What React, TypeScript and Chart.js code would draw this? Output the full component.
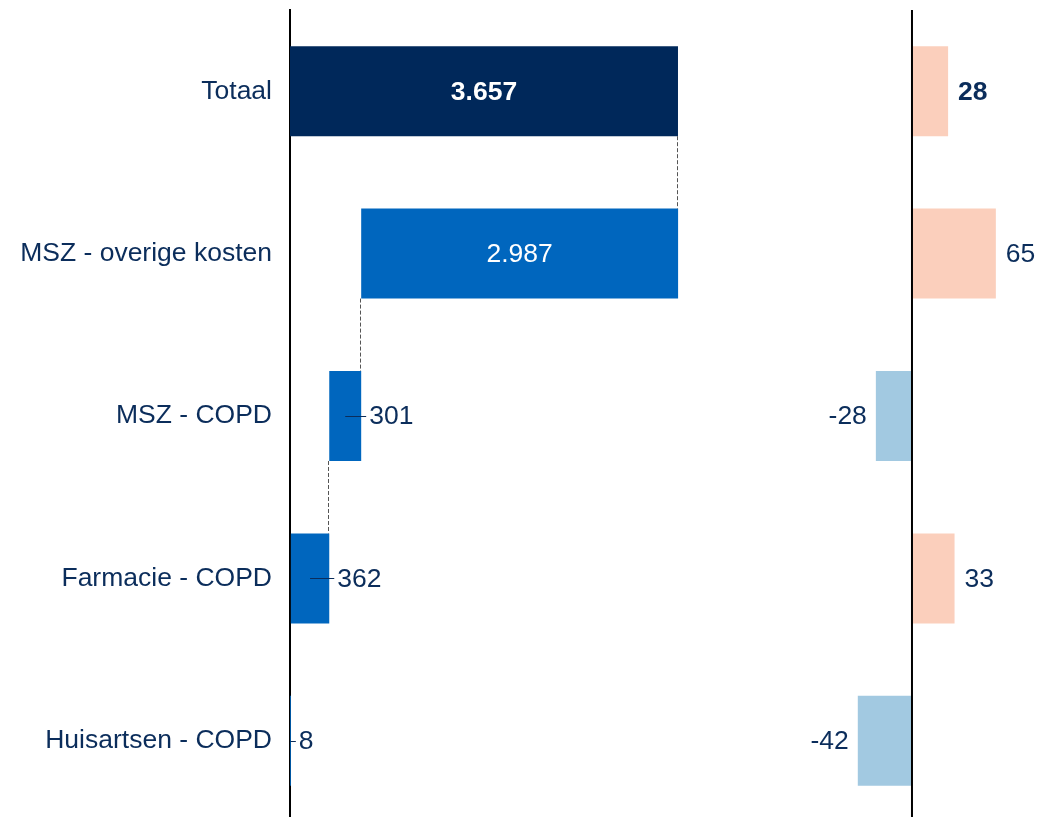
import React, { useEffect, useRef } from "react";
import { Chart, registerables } from "chart.js";

Chart.register(...registerables);

const categories = ["Totaal", "MSZ - overige kosten", "MSZ - COPD", "Farmacie - COPD", "Huisartsen - COPD"];
const values = [3657, 2987, 301, 362, 8];
const changes = [28, 65, -28, 33, -42];

const FONT = '"Liberation Sans", Arial, Helvetica, sans-serif';
const FS = 26.5;
const TEXT = "#0B2D5B";
const NAVY = "#00285A";
const BLUE = "#0066BE";
const PEACH = "#FBCFBC";
const LIGHTBLUE = "#A2C9E1";

function fmt(v: number): string {
  const neg = v < 0;
  const s = Math.abs(Math.round(v)).toString().replace(/\B(?=(\d{3})+(?!\d))/g, ".");
  return (neg ? "-" : "") + s;
}

// floating waterfall ranges: first is total, the rest stack up from zero (bottom to top)
function waterfallRanges(): [number, number][] {
  const out: [number, number][] = [];
  out.push([0, values[0]]);
  const parts: [number, number][] = [];
  let acc = 0;
  for (let i = values.length - 1; i >= 1; i--) {
    parts.unshift([acc, acc + values[i]]);
    acc += values[i];
  }
  return out.concat(parts);
}

export default function App() {
  const leftRef = useRef<HTMLCanvasElement>(null);
  const rightRef = useRef<HTMLCanvasElement>(null);

  useEffect(() => {
    const ranges = waterfallRanges();

    const leftLabels = {
      id: "leftLabels",
      afterDatasetsDraw(chart: any) {
        const ctx = chart.ctx;
        const meta = chart.getDatasetMeta(0);
        const xs = chart.scales.x;
        ctx.save();
        // connectors
        ctx.strokeStyle = "#555555";
        ctx.lineWidth = 1;
        ctx.setLineDash([4, 2]);
        for (let i = 0; i < ranges.length - 2; i++) {
          const a: any = meta.data[i];
          const b: any = meta.data[i + 1];
          const xv = i === 0 ? ranges[i][1] : ranges[i][0];
          const px = Math.round(xs.getPixelForValue(xv)) - 0.5;
          ctx.beginPath();
          ctx.moveTo(px, a.y + a.height / 2);
          ctx.lineTo(px, b.y - b.height / 2);
          ctx.stroke();
        }
        ctx.setLineDash([]);
        // labels
        ctx.textBaseline = "middle";
        meta.data.forEach((el: any, i: number) => {
          const x0 = xs.getPixelForValue(ranges[i][0]);
          const x1 = xs.getPixelForValue(ranges[i][1]);
          const w = x1 - x0;
          const y = el.y;
          const bold = i === 0;
          ctx.font = (bold ? "bold " : "") + FS + "px " + FONT;
          if (w > 100) {
            ctx.fillStyle = "#FFFFFF";
            ctx.textAlign = "center";
            ctx.fillText(fmt(values[i]), (x0 + x1) / 2, y + 1);
          } else {
            ctx.strokeStyle = TEXT;
            ctx.lineWidth = 1;
            ctx.beginPath();
            ctx.moveTo((x0 + x1) / 2, Math.round(y) + 0.5);
            ctx.lineTo(x1 + 5, Math.round(y) + 0.5);
            ctx.stroke();
            ctx.fillStyle = TEXT;
            ctx.textAlign = "left";
            ctx.fillText(fmt(values[i]), x1 + 8, y + 1);
          }
        });
        ctx.restore();
      },
    };

    const left = new Chart(leftRef.current as HTMLCanvasElement, {
      type: "bar",
      data: {
        labels: categories,
        datasets: [
          {
            data: ranges as any,
            backgroundColor: categories.map((_, i) => (i === 0 ? NAVY : BLUE)),
            borderWidth: 0,
            categoryPercentage: 1,
            barPercentage: 0.554,
          },
        ],
      },
      options: {
        indexAxis: "y",
        responsive: false,
        animation: false,
        layout: { padding: { top: 10, bottom: 0, left: 0, right: 0 } },
        plugins: { legend: { display: false }, tooltip: { enabled: false } },
        scales: {
          x: { display: false, min: 0, max: 4807 },
          y: {
            grid: { display: false, drawTicks: false },
            border: { display: true, color: "#000000", width: 2 },
            ticks: { color: TEXT, font: { family: FONT, size: FS }, padding: 18 },
            afterFit(scale: any) {
              scale.width = 290;
              scale.paddingTop = 0;
              scale.paddingBottom = 0;
            },
          },
        },
      },
      plugins: [leftLabels],
    });

    const rightPlugin = {
      id: "rightLabels",
      afterDatasetsDraw(chart: any) {
        const ctx = chart.ctx;
        const meta = chart.getDatasetMeta(0);
        const xs = chart.scales.x;
        const area = chart.chartArea;
        ctx.save();
        const zx = xs.getPixelForValue(0);
        ctx.strokeStyle = "#000000";
        ctx.lineWidth = 2;
        ctx.beginPath();
        ctx.moveTo(zx, area.top);
        ctx.lineTo(zx, area.bottom);
        ctx.stroke();
        ctx.textBaseline = "middle";
        meta.data.forEach((el: any, i: number) => {
          const v = changes[i];
          const xe = xs.getPixelForValue(v);
          ctx.font = (i === 0 ? "bold " : "") + FS + "px " + FONT;
          ctx.fillStyle = TEXT;
          if (v >= 0) {
            ctx.textAlign = "left";
            ctx.fillText(fmt(v), xe + 10, el.y + 1);
          } else {
            ctx.textAlign = "right";
            ctx.fillText(fmt(v), xe - 9, el.y + 1);
          }
        });
        ctx.restore();
      },
    };

    const right = new Chart(rightRef.current as HTMLCanvasElement, {
      type: "bar",
      data: {
        labels: categories,
        datasets: [
          {
            data: changes,
            backgroundColor: changes.map((v) => (v >= 0 ? PEACH : LIGHTBLUE)),
            borderWidth: 0,
            categoryPercentage: 1,
            barPercentage: 0.554,
          },
        ],
      },
      options: {
        indexAxis: "y",
        responsive: false,
        animation: false,
        layout: { padding: { top: 10, bottom: 0, left: 0, right: 0 } },
        plugins: { legend: { display: false }, tooltip: { enabled: false } },
        scales: {
          x: { display: false, min: -117.8, max: 115.5 },
          y: { display: false },
        },
      },
      plugins: [rightPlugin],
    });

    return () => {
      left.destroy();
      right.destroy();
    };
  }, []);

  return (
    <div
      style={{
        position: "absolute",
        left: 0,
        top: 0,
        width: 1061,
        height: 817,
        overflow: "hidden",
        background: "#FFFFFF",
      }}
    >
      <canvas
        ref={leftRef}
        width={800}
        height={822}
        style={{ position: "absolute", left: 0, top: 0, width: 800, height: 822 }}
      />
      <canvas
        ref={rightRef}
        width={301}
        height={822}
        style={{ position: "absolute", left: 760, top: 0, width: 301, height: 822 }}
      />
    </div>
  );
}
